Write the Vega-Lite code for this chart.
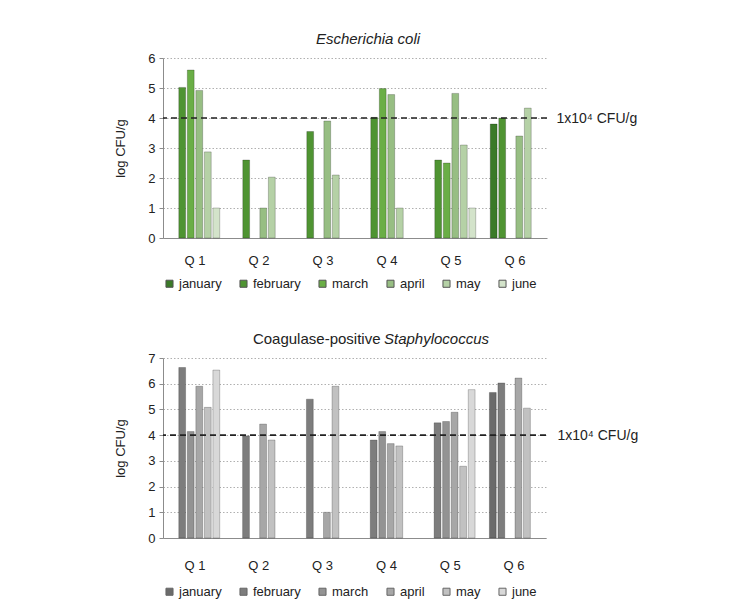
{
  "$schema": "https://vega.github.io/schema/vega-lite/v6.json",
  "background": "white",
  "padding": {"left": 114, "top": 32, "right": 0, "bottom": 0},
  "config": {
    "font": "Liberation Sans",
    "view": {"stroke": null},
    "axis": {"labelFontSize": 13, "labelColor": "#222", "titleFontSize": 13, "titleFontWeight": "normal", "titleColor": "#222", "domainColor": "#8c8c8c", "tickColor": "#8c8c8c"},
    "legend": {"labelFontSize": 13, "labelColor": "#222", "symbolType": "square", "symbolSize": 50, "symbolStrokeWidth": 1, "columnPadding": 15, "labelOffset": 3}
  },
  "datasets": {
    "ecoli": [
      {"quarter": "Q 1", "month": "february", "log_cfu": 5.02},
      {"quarter": "Q 1", "month": "march", "log_cfu": 5.6},
      {"quarter": "Q 1", "month": "april", "log_cfu": 4.92},
      {"quarter": "Q 1", "month": "may", "log_cfu": 2.87},
      {"quarter": "Q 1", "month": "june", "log_cfu": 1.0},
      {"quarter": "Q 2", "month": "february", "log_cfu": 2.6},
      {"quarter": "Q 2", "month": "april", "log_cfu": 1.0},
      {"quarter": "Q 2", "month": "may", "log_cfu": 2.03},
      {"quarter": "Q 3", "month": "february", "log_cfu": 3.55},
      {"quarter": "Q 3", "month": "april", "log_cfu": 3.9},
      {"quarter": "Q 3", "month": "may", "log_cfu": 2.1},
      {"quarter": "Q 4", "month": "february", "log_cfu": 4.02},
      {"quarter": "Q 4", "month": "march", "log_cfu": 4.98},
      {"quarter": "Q 4", "month": "april", "log_cfu": 4.78},
      {"quarter": "Q 4", "month": "may", "log_cfu": 1.0},
      {"quarter": "Q 5", "month": "february", "log_cfu": 2.6},
      {"quarter": "Q 5", "month": "march", "log_cfu": 2.5},
      {"quarter": "Q 5", "month": "april", "log_cfu": 4.82},
      {"quarter": "Q 5", "month": "may", "log_cfu": 3.1},
      {"quarter": "Q 5", "month": "june", "log_cfu": 1.0},
      {"quarter": "Q 6", "month": "january", "log_cfu": 3.8},
      {"quarter": "Q 6", "month": "february", "log_cfu": 4.0},
      {"quarter": "Q 6", "month": "april", "log_cfu": 3.4},
      {"quarter": "Q 6", "month": "may", "log_cfu": 4.33}
    ],
    "staph": [
      {"quarter": "Q 1", "month": "february", "log_cfu": 6.63},
      {"quarter": "Q 1", "month": "march", "log_cfu": 4.14},
      {"quarter": "Q 1", "month": "april", "log_cfu": 5.9},
      {"quarter": "Q 1", "month": "may", "log_cfu": 5.08},
      {"quarter": "Q 1", "month": "june", "log_cfu": 6.53},
      {"quarter": "Q 2", "month": "february", "log_cfu": 3.97},
      {"quarter": "Q 2", "month": "april", "log_cfu": 4.43},
      {"quarter": "Q 2", "month": "may", "log_cfu": 3.81},
      {"quarter": "Q 3", "month": "february", "log_cfu": 5.4},
      {"quarter": "Q 3", "month": "april", "log_cfu": 1.0},
      {"quarter": "Q 3", "month": "may", "log_cfu": 5.9},
      {"quarter": "Q 4", "month": "february", "log_cfu": 3.81},
      {"quarter": "Q 4", "month": "march", "log_cfu": 4.14},
      {"quarter": "Q 4", "month": "april", "log_cfu": 3.67},
      {"quarter": "Q 4", "month": "may", "log_cfu": 3.58},
      {"quarter": "Q 5", "month": "february", "log_cfu": 4.48},
      {"quarter": "Q 5", "month": "march", "log_cfu": 4.53},
      {"quarter": "Q 5", "month": "april", "log_cfu": 4.89},
      {"quarter": "Q 5", "month": "may", "log_cfu": 2.79},
      {"quarter": "Q 5", "month": "june", "log_cfu": 5.77},
      {"quarter": "Q 6", "month": "january", "log_cfu": 5.66},
      {"quarter": "Q 6", "month": "february", "log_cfu": 6.03},
      {"quarter": "Q 6", "month": "april", "log_cfu": 6.22},
      {"quarter": "Q 6", "month": "may", "log_cfu": 5.05}
    ],
    "limit": [{"threshold": 4, "label": "1x10⁴ CFU/g"}]
  },
  "spacing": 41,
  "resolve": {"scale": {"color": "independent"}, "legend": {"color": "independent"}},
  "vconcat": [
    {
      "width": 384,
      "height": 180,
      "title": {"text": "Escherichia coli", "fontStyle": "italic", "fontWeight": "normal", "fontSize": 15, "color": "#222", "anchor": "middle", "dx": 13, "offset": 5},
      "layer": [
        {
          "data": {"name": "ecoli"},
          "mark": {"type": "bar", "stroke": "#000", "strokeOpacity": 0.22, "strokeWidth": 1},
          "encoding": {
            "x": {"field": "quarter", "type": "nominal", "sort": null, "scale": {"paddingInner": 0.2, "paddingOuter": 0.1},
                  "axis": {"title": null, "labelAngle": 0, "ticks": false, "labelPadding": 16}},
            "xOffset": {"field": "month", "type": "nominal", "scale": {"domain": ["january", "february", "march", "april", "may", "june"], "paddingInner": 0.2, "paddingOuter": 0.1}},
            "y": {"field": "log_cfu", "type": "quantitative", "scale": {"domain": [0, 6]},
                  "axis": {"title": "log CFU/g", "values": [0, 1, 2, 3, 4, 5, 6], "grid": true, "gridDash": [1.5, 2], "gridColor": "#b0b0b0", "tickSize": 4, "labelPadding": 4, "titlePadding": 20}},
            "color": {"field": "month", "type": "nominal",
                      "scale": {"domain": ["january", "february", "march", "april", "may", "june"], "range": ["#3b7a28", "#4f9432", "#6aae46", "#97be83", "#b5d1a6", "#d3e3ca"]},
                      "legend": {"title": null, "orient": "bottom", "direction": "horizontal", "offset": 10, "symbolStrokeColor": "#555"}}
          }
        },
        {
          "data": {"name": "limit"},
          "mark": {"type": "rule", "color": "#222", "strokeDash": [6, 4], "strokeWidth": 1.6},
          "encoding": {
            "y": {"field": "threshold", "type": "quantitative",
                  "axis": {"orient": "right", "values": [4], "labelExpr": "'1x10⁴ CFU/g'", "labelFontSize": 14, "domain": false, "ticks": false, "grid": false, "title": null, "labelPadding": 9}}
          }
        }
      ],
      "resolve": {"axis": {"y": "independent"}}
    },
    {
      "width": 383,
      "height": 180,
      "title": {"text": "Coagulase-positive", "subtitle": "Staphylococcus", "fontWeight": "normal", "fontSize": 15, "color": "#222",
                "subtitleFontSize": 15, "subtitleFontStyle": "italic", "subtitleColor": "#222", "subtitlePadding": 0,
                "anchor": "middle", "dx": 26, "offset": 5,
                "encode": {"title": {"update": {"align": {"value": "right"}}}, "subtitle": {"update": {"dx": {"value": 82}, "dy": {"value": -15}}}}},
      "layer": [
        {
          "data": {"name": "staph"},
          "mark": {"type": "bar", "stroke": "#000", "strokeOpacity": 0.22, "strokeWidth": 1},
          "encoding": {
            "x": {"field": "quarter", "type": "nominal", "sort": null, "scale": {"paddingInner": 0.2, "paddingOuter": 0.1},
                  "axis": {"title": null, "labelAngle": 0, "ticks": false, "labelPadding": 21}},
            "xOffset": {"field": "month", "type": "nominal", "scale": {"domain": ["january", "february", "march", "april", "may", "june"], "paddingInner": 0.2, "paddingOuter": 0.1}},
            "y": {"field": "log_cfu", "type": "quantitative", "scale": {"domain": [0, 7]},
                  "axis": {"title": "log CFU/g", "values": [0, 1, 2, 3, 4, 5, 6, 7], "grid": true, "gridDash": [1.5, 2], "gridColor": "#b0b0b0", "tickSize": 4, "labelPadding": 4, "titlePadding": 20}},
            "color": {"field": "month", "type": "nominal",
                      "scale": {"domain": ["january", "february", "march", "april", "may", "june"], "range": ["#6b6b6b", "#7d7d7d", "#939393", "#a7a7a7", "#c1c1c1", "#d8d8d8"]},
                      "legend": {"title": null, "orient": "bottom", "direction": "horizontal", "offset": 13, "symbolStrokeColor": "#666"}}
          }
        },
        {
          "data": {"name": "limit"},
          "mark": {"type": "rule", "color": "#222", "strokeDash": [6, 4], "strokeWidth": 1.6},
          "encoding": {
            "y": {"field": "threshold", "type": "quantitative",
                  "axis": {"orient": "right", "values": [4], "labelExpr": "'1x10⁴ CFU/g'", "labelFontSize": 14, "domain": false, "ticks": false, "grid": false, "title": null, "labelPadding": 11}}
          }
        }
      ],
      "resolve": {"axis": {"y": "independent"}}
    }
  ]
}
